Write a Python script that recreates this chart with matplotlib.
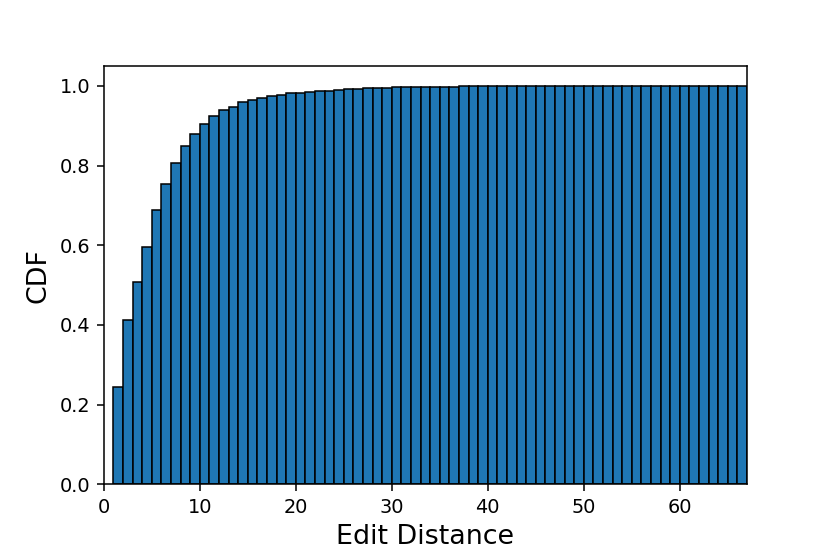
import matplotlib
matplotlib.use("Agg")
import matplotlib.pyplot as plt
import numpy as np

# Cumulative fraction per edit-distance bin [d, d+1)
edit_distance = list(range(1, 67))
cdf_values = [
    0.244, 0.412, 0.508, 0.596, 0.688, 0.754, 0.806, 0.848, 0.880, 0.905,
    0.924, 0.940, 0.947, 0.959, 0.965, 0.970, 0.974, 0.978, 0.981, 0.983,
    0.985, 0.986, 0.988, 0.990, 0.991, 0.993, 0.994, 0.994, 0.995, 0.996,
    0.996, 0.997, 0.997, 0.997, 0.997, 0.997, 0.999, 0.999, 0.999, 0.999,
    0.999, 0.999, 0.999, 0.999, 0.999, 0.999, 0.999, 0.999, 0.999, 0.999,
    0.999, 0.999, 0.999, 1.000, 1.000, 1.000, 1.000, 1.000, 1.000, 1.000,
    1.000, 1.000, 1.000, 1.000, 1.000, 1.000,
]
x_max = 67

dpi = 138.33
fig = plt.figure(figsize=(830 / dpi, 554 / dpi), dpi=dpi)
ax = fig.add_axes([0.125, 0.126, 0.775, 0.755])
ax.bar(edit_distance, cdf_values, width=1, align="edge",
       color="#1f77b4", edgecolor="black", linewidth=0.8)
ax.set_xlim(0, x_max)
ax.set_ylim(0, 1.05)
ax.set_xlabel("Edit Distance", fontsize=14)
ax.set_ylabel("CDF", fontsize=14)
fig.savefig("out.png", dpi=dpi)
